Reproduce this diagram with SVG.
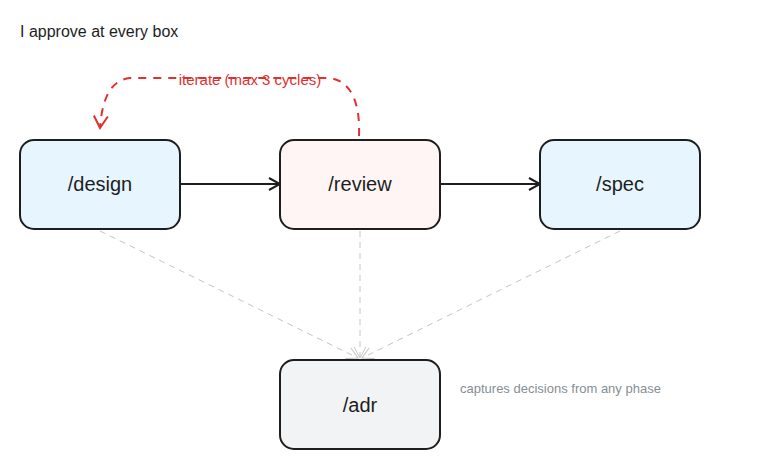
<svg xmlns="http://www.w3.org/2000/svg" width="760" height="470" viewBox="0 0 760 470">
<style>
.box{stroke:#1e1e1e;stroke-width:2}
.lbl{font-family:"Liberation Sans",sans-serif;font-size:20px;fill:#1e1e1e;text-anchor:middle;dominant-baseline:central}
.dash{stroke:#c4c4c4;stroke-width:1;stroke-dasharray:6 5;fill:none}
</style>
<defs>
<marker id="ab" markerWidth="14" markerHeight="14" refX="12" refY="7" orient="auto" markerUnits="userSpaceOnUse"><path d="M1,1 L12,7 L1,13" fill="none" stroke="#1e1e1e" stroke-width="2"/></marker>
<marker id="ag" markerWidth="14" markerHeight="14" refX="12" refY="7" orient="auto" markerUnits="userSpaceOnUse"><path d="M1,1 L12,7 L1,13" fill="none" stroke="#c4c4c4" stroke-width="1"/></marker>
<marker id="ar" markerWidth="16" markerHeight="16" refX="13" refY="8" orient="auto" markerUnits="userSpaceOnUse"><path d="M1,1 L13,8 L1,15" fill="none" stroke="#e03131" stroke-width="2"/></marker>
</defs>
<rect width="760" height="470" fill="#fff"/>
<text x="20" y="31" font-family="Liberation Sans,sans-serif" font-size="16" fill="#1e1e1e" dominant-baseline="central">I approve at every box</text>
<g id="connectors">
<line x1="181" y1="184" x2="280" y2="184" stroke="#1e1e1e" stroke-width="2" marker-end="url(#ab)"/>
<line x1="441" y1="184" x2="540" y2="184" stroke="#1e1e1e" stroke-width="2" marker-end="url(#ab)"/>
<line x1="100" y1="231" x2="358" y2="358" class="dash" marker-end="url(#ag)"/>
<line x1="360" y1="231" x2="360" y2="358" class="dash" marker-end="url(#ag)"/>
<line x1="620" y1="231" x2="362" y2="358" class="dash" marker-end="url(#ag)"/>
<path d="M359,136 C360,110 355,82 330,78 L130,78 C110,80 102,100 100,128" fill="none" stroke="#e03131" stroke-width="2" stroke-dasharray="8 7" marker-end="url(#ar)"/>
<text x="250" y="79" font-family="Liberation Sans,sans-serif" font-size="15" fill="#e03131" text-anchor="middle" dominant-baseline="central">iterate (max 3 cycles)</text>
</g>
<g id="design"><rect class="box" x="20" y="140" width="160" height="89" rx="14" fill="#e7f5ff"/><text class="lbl" x="100" y="184">/design</text></g>
<g id="review"><rect class="box" x="280" y="140" width="160" height="89" rx="14" fill="#fff5f5"/><text class="lbl" x="360" y="184">/review</text></g>
<g id="spec"><rect class="box" x="540" y="140" width="160" height="89" rx="14" fill="#e7f5ff"/><text class="lbl" x="620" y="184">/spec</text></g>
<g id="adr"><rect class="box" x="280" y="360" width="160" height="89" rx="14" fill="#f1f3f5"/><text class="lbl" x="360" y="405">/adr</text></g>
<text x="460" y="388" font-family="Liberation Sans,sans-serif" font-size="13" fill="#868e96" dominant-baseline="central">captures decisions from any phase</text>
</svg>
